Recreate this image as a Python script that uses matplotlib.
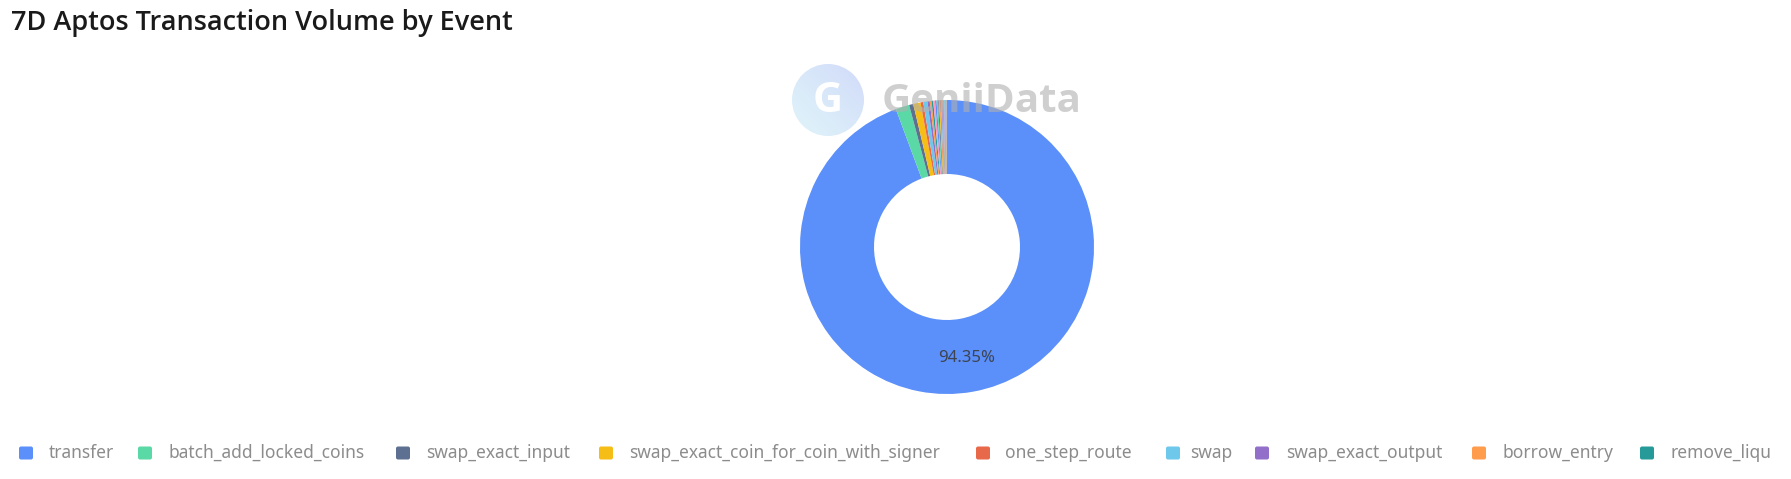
import matplotlib
matplotlib.use('Agg')
import matplotlib.pyplot as plt
import numpy as np
from matplotlib.patches import FancyBboxPatch, Circle

# data (percent of 7D transaction volume)
names=['transfer','batch_add_locked_coins','swap_exact_input','swap_exact_coin_for_coin_with_signer',
       'one_step_route','swap','swap_exact_output','borrow_entry','remove_liqu']
values=[94.35,1.5,0.46,0.8,0.3,0.46,0.25,0.2,0.18]
# many tiny events not visible in the legend
tail_values=[0.2,0.16,0.14,0.12,0.11,0.1,0.09,0.08,0.07,0.06,0.06,0.05,0.05,0.04,0.04,0.03,0.03,0.02,0.02,0.02,0.01]
palette=['#5B8FF9','#5AD8A6','#5D7092','#F6BD16','#E8684A','#6DC8EC','#9270CA','#FF9D4D','#269A99','#FF99C3']

W,H=1791,479
fig=plt.figure(figsize=(W/100,H/100),dpi=100)
plt.rcParams['font.family']=['Noto Sans','DejaVu Sans']

# title
fig.text(11/W,1-23/H,'7D Aptos Transaction Volume by Event',fontsize=19.5,fontweight='semibold',
         family=['Open Sans','DejaVu Sans'],color='#1a1a1a',va='center',ha='left')

# donut
cx,cy,r=947,247,147
ax=fig.add_axes([(cx-r)/W,(H-cy-r)/H,2*r/W,2*r/H])
allvals=values+tail_values
colors=[palette[i%len(palette)] for i in range(len(allvals))]
wedges,_=ax.pie(allvals,colors=colors,startangle=90,counterclock=False,radius=1,
                wedgeprops=dict(width=1-73/147,edgecolor='none'))
ax.set_xlim(-1,1)
ax.set_ylim(-1,1)
ax.axis('off')

# label on the big slice
total=sum(allvals)
mid=90-values[0]/total*360/2
lr=0.77
ax.text(lr*np.cos(np.radians(mid)),lr*np.sin(np.radians(mid)),'%.2f%%'%(values[0]/total*100),
        ha='center',va='center',fontsize=12,color='#3d4452')

# watermark logo
lx,ly,lrad=828,100,36
lax=fig.add_axes([(lx-lrad)/W,(H-ly-lrad)/H,2*lrad/W,2*lrad/H])
gx,gy=np.meshgrid(np.linspace(0,1,64),np.linspace(0,1,64))
g=(gx+(1-gy))/2
c1=np.array([0.88,0.96,0.98]); c2=np.array([0.82,0.86,0.98])
img=c1[None,None,:]*(1-g[...,None])+c2[None,None,:]*g[...,None]
im=lax.imshow(img,extent=[-1,1,-1,1],origin='upper')
clipc=Circle((0,0),1,transform=lax.transData)
im.set_clip_path(clipc)
lax.set_xlim(-1,1); lax.set_ylim(-1,1); lax.axis('off')
lax.text(0,-0.05,'G',fontsize=30,color='white',ha='center',va='center',fontweight='bold',
         family=['Open Sans','DejaVu Sans'])

fig.text(882/W,1-102/H,'GeniiData',fontsize=29,color='#b0b0b0',alpha=0.6,
         family=['Open Sans','DejaVu Sans'],ha='left',va='center',fontweight='bold')

# legend
marker_x=[19,138,396,599,976,1166,1255,1472,1640]
text_x=[49,168,426,629,1005,1190,1286,1502,1670]
legy=453
for i,n in enumerate(names):
    p=FancyBboxPatch((marker_x[i],H-legy-6.5),14,13,boxstyle='round,pad=0,rounding_size=2',
                     transform=None,facecolor=palette[i],edgecolor='none')
    fig.patches.append(p)
    fig.text(text_x[i]/W,1-legy/H,n,fontsize=12.5,color='#8c8c8c',ha='left',va='center')

fig.savefig('out.png',dpi=100)
